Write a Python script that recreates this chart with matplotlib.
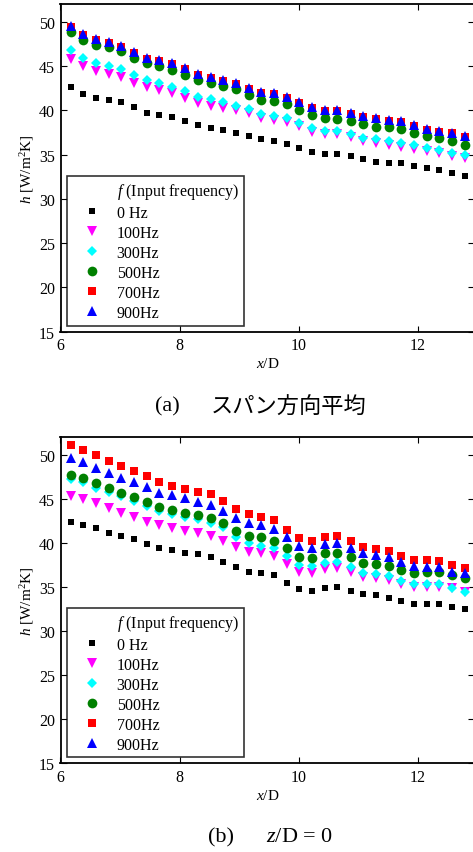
import numpy as np
import matplotlib
matplotlib.use('Agg')
import matplotlib.pyplot as plt
from matplotlib.lines import Line2D

plt.rcParams['font.family'] = ['Liberation Serif', 'DejaVu Serif']
plt.rcParams['mathtext.fontset'] = 'custom'
plt.rcParams['mathtext.rm'] = 'Liberation Serif'
plt.rcParams['mathtext.it'] = 'Liberation Serif:italic'

# x/D positions (same for both panels)
xd = [6.17, 6.38, 6.60, 6.81, 7.02, 7.24, 7.45, 7.66, 7.88, 8.09, 8.31, 8.52,
      8.73, 8.95, 9.16, 9.37, 9.59, 9.80, 10.01, 10.23, 10.44, 10.65, 10.87,
      11.08, 11.29, 11.51, 11.72, 11.93, 12.15, 12.36, 12.58, 12.79]

labels = ['0 Hz', '100Hz', '300Hz', '500Hz', '700Hz', '900Hz']

# (a) spanwise average
a_0 = [42.69, 41.85, 41.46, 41.23, 40.92, 40.35, 39.77, 39.54, 39.23, 38.81, 38.35, 38.0,
       37.81, 37.44, 37.08, 36.8, 36.54, 36.23, 35.77, 35.27, 35.04, 35.04, 34.8, 34.5,
       34.23, 34.1, 34.04, 33.73, 33.5, 33.27, 32.96, 32.6]
a_100 = [45.85, 45.08, 44.42, 44.15, 43.73, 43.15, 42.62, 42.31, 41.92, 41.42, 40.88, 40.54,
         40.31, 40.0, 39.7, 39.2, 38.9, 38.7, 38.2, 37.6, 37.3, 37.3, 37.0, 36.5,
         36.3, 36.1, 35.9, 35.6, 35.4, 35.2, 34.8, 34.6]
a_300 = [46.85, 45.92, 45.38, 45.0, 44.69, 44.04, 43.46, 43.15, 42.69, 42.23, 41.54, 41.27,
         41.0, 40.55, 40.12, 39.62, 39.35, 39.15, 38.54, 38.0, 37.69, 37.69, 37.38, 36.92,
         36.73, 36.54, 36.38, 36.08, 35.77, 35.54, 35.19, 34.92]
a_500 = [48.92, 48.0, 47.38, 47.19, 46.73, 45.96, 45.31, 45.0, 44.62, 44.0, 43.46, 43.15,
         42.77, 42.38, 41.73, 41.23, 41.08, 40.69, 40.08, 39.5, 39.15, 39.04, 38.85, 38.46,
         38.15, 38.08, 37.88, 37.5, 37.12, 36.85, 36.54, 36.08]
a_700 = [49.45, 48.55, 47.95, 47.58, 47.2, 46.5, 45.85, 45.55, 45.2, 44.7, 44.05, 43.65,
         43.35, 42.98, 42.48, 42.02, 41.82, 41.45, 40.86, 40.28, 39.9, 39.9, 39.6, 39.32,
         39.05, 38.86, 38.67, 38.28, 37.8, 37.6, 37.4, 37.0]
a_900 = [49.54, 48.65, 48.08, 47.69, 47.31, 46.62, 45.96, 45.65, 45.31, 44.81, 44.15, 43.77,
         43.46, 43.08, 42.58, 42.12, 41.92, 41.54, 40.96, 40.38, 40.0, 40.0, 39.69, 39.42,
         39.15, 38.96, 38.77, 38.38, 37.88, 37.69, 37.5, 37.08]

# (b) z/D = 0
b_0 = [42.42, 42.05, 41.67, 41.1, 40.8, 40.42, 39.85, 39.39, 39.2, 38.9, 38.75, 38.45,
       37.88, 37.23, 36.74, 36.55, 36.36, 35.49, 34.73, 34.58, 34.92, 35.04, 34.58, 34.17,
       34.09, 33.79, 33.41, 33.07, 33.07, 33.07, 32.69, 32.5]
b_100 = [45.34, 44.96, 44.51, 43.94, 43.37, 42.99, 42.42, 42.0, 41.67, 41.36, 41.1, 40.8,
         40.27, 39.51, 38.94, 38.83, 38.52, 37.61, 36.74, 36.63, 37.05, 37.12, 36.67, 36.17,
         35.98, 35.8, 35.3, 35.04, 35.04, 35.04, 34.85, 34.47]
b_300 = [47.3, 46.9, 46.3, 45.8, 45.3, 44.8, 44.2, 43.6, 43.3, 43.0, 42.7, 42.3,
         41.8, 40.7, 40.04, 39.66, 39.39, 38.52, 37.5, 37.39, 37.77, 37.88, 37.31, 36.63,
         36.48, 36.29, 35.72, 35.3, 35.3, 35.3, 34.85, 34.47]
b_500 = [47.73, 47.35, 46.78, 46.21, 45.72, 45.19, 44.66, 44.05, 43.75, 43.45, 43.14, 42.8,
         42.31, 41.4, 40.83, 40.64, 40.27, 39.39, 38.45, 38.33, 38.83, 38.9, 38.37, 37.77,
         37.61, 37.42, 36.93, 36.55, 36.67, 36.67, 36.36, 35.98]
b_700 = [51.1, 50.53, 50.0, 49.36, 48.71, 48.18, 47.61, 46.93, 46.52, 46.17, 45.83, 45.53,
         44.73, 43.9, 43.26, 42.92, 42.61, 41.48, 40.53, 40.23, 40.64, 40.8, 40.23, 39.58,
         39.36, 39.13, 38.52, 38.07, 38.07, 37.99, 37.5, 37.12]
b_900 = [49.62, 49.24, 48.56, 47.92, 47.42, 46.89, 46.33, 45.72, 45.42, 45.08, 44.7, 44.32,
         43.67, 42.88, 42.23, 42.05, 41.55, 40.64, 39.66, 39.47, 39.89, 39.96, 39.47, 38.83,
         38.64, 38.45, 37.88, 37.42, 37.31, 37.31, 36.74, 36.55]

styles = [('s', 'black', 5.0), ('v', '#FF00FF', 6.5), ('D', '#00FFFF', 5.2),
          ('o', '#008000', 7.0), ('s', '#FF0000', 5.2), ('^', '#0000FF', 6.5)]

W, H = 473, 853
fig = plt.figure(figsize=(W / 100, H / 100), dpi=100)


def panel(rect, series):
    ax = fig.add_axes(rect)
    for (m, c, ms), ys, lab in zip(styles, series, labels):
        ax.plot(xd, ys, linestyle='none', marker=m, color=c, markersize=ms,
                markeredgewidth=0, label=lab)
    ax.set_xlim(6, 12.95)
    ax.set_ylim(15, 52)
    ax.set_xticks([6, 8, 10, 12])
    ax.set_yticks([15, 20, 25, 30, 35, 40, 45, 50])
    ax.tick_params(direction='in', top=True, right=True, length=4, width=0.8,
                   labelsize=11.5, pad=4)
    for s in ax.spines.values():
        s.set_linewidth(1.3)
    ax.set_xlabel('$x$/D', fontsize=11, labelpad=2)
    ax.set_ylabel('$h$ [W/m$^2$K]', fontsize=11, labelpad=2)
    # legend title as a first row without marker
    h, l = ax.get_legend_handles_labels()
    title = Line2D([], [], linestyle='none', marker=None)
    leg = ax.legend([title] + h, ['$f$ (Input frequency)'] + l, loc='lower left',
                    bbox_to_anchor=(0.016, 0.018), borderaxespad=0, fontsize=11.5,
                    frameon=True, fancybox=False, edgecolor='black',
                    borderpad=0.3, labelspacing=0.25, handletextpad=0.3,
                    handlelength=2.5)
    leg.get_frame().set_linewidth(1.2)
    return ax


ax1 = panel([60.5 / W, 1 - 332.7 / H, (W - 60.5) / W + 0.003, (332.7 - 5.3) / H],
            [a_0, a_100, a_300, a_500, a_700, a_900])
ax2 = panel([60.5 / W, 1 - 764.3 / H, (W - 60.5) / W + 0.003, (764.3 - 438.3) / H],
            [b_0, b_100, b_300, b_500, b_700, b_900])

fig.text(155 / W, 1 - 407 / H, '(a)', fontsize=16, ha='left', va='center')
fig.text(211 / W, 1 - 407 / H, 'スパン方向平均', fontsize=16, ha='left', va='center',
         family=['Noto Sans CJK JP', 'DejaVu Sans'])
fig.text(208 / W, 1 - 838 / H, '(b)', fontsize=16, ha='left', va='center')
fig.text(266 / W, 1 - 838 / H, '$z$/D = 0', fontsize=16, ha='left', va='center')

fig.savefig('out.png', dpi=100)
